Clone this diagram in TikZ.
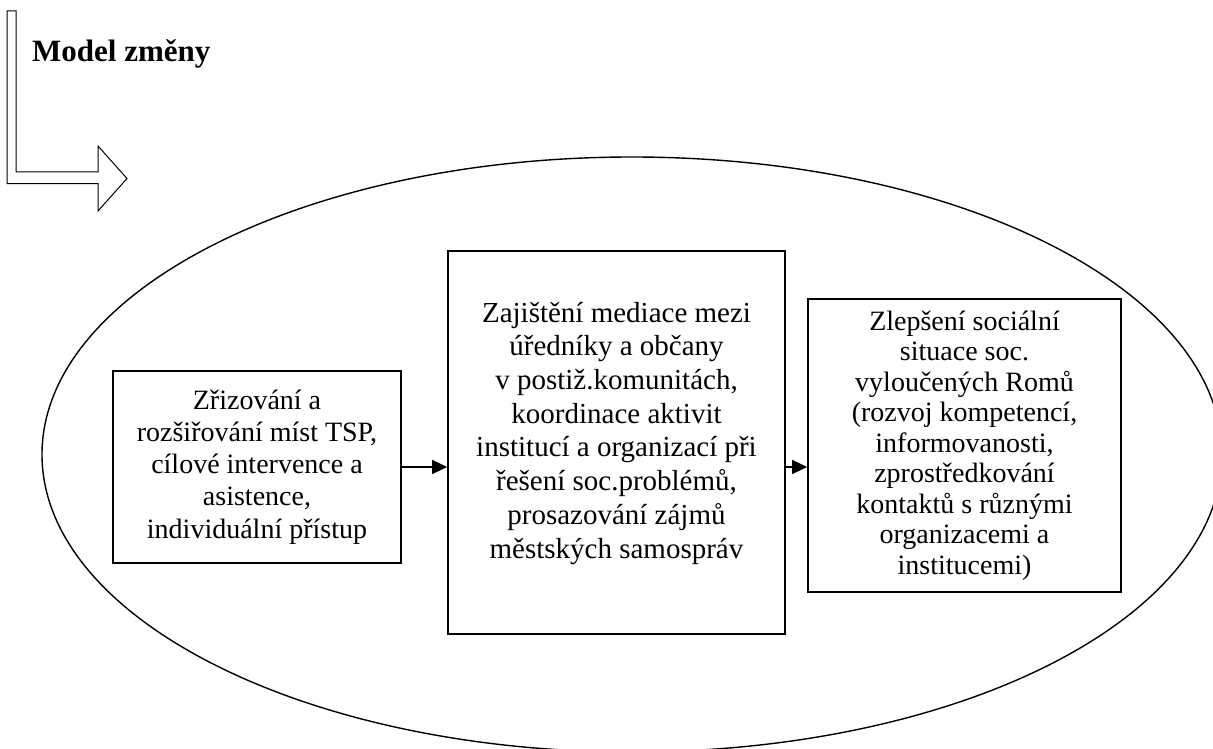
\documentclass[tikz,border=0pt]{standalone}
\usepackage{fontspec}
\setmainfont{Liberation Serif}
\usetikzlibrary{arrows.meta}
\tikzset{
  boxnode/.style={draw, line width=1.7pt, rectangle, align=center, inner sep=0pt,
    font=\fontsize{28}{32.2}\selectfont},
  flow/.style={line width=1.5pt, -{Triangle[length=15pt,width=14pt]}},
  blockarrow/.style={draw, line width=1pt, line join=miter},
  oval/.style={draw, line width=1.4pt}
}
\begin{document}
\begin{tikzpicture}[x=1pt,y=-1pt]
\useasboundingbox (0,0) rectangle (1213,749);
% large ellipse
\draw[oval] (632,454.5) ellipse [x radius=590pt, y radius=297.5pt];
% block arrow
\draw[blockarrow] (7,11) -- (16,11) -- (16,172) -- (98,172) -- (98,146) -- (127,178.5)
  -- (98,211) -- (98,183.5) -- (7,183.5) -- cycle;
% title
\node[font=\bfseries\fontsize{31}{36}\selectfont, anchor=base west, inner sep=0pt] (title) at (32,62) {Model změny};
% boxes
\node[boxnode, minimum width=288pt, minimum height=192pt] (b1) at (257,467)
  {Zřizování a\\rozšiřování míst TSP,\\cílové intervence a\\asistence,\\individuální přístup};
\node[boxnode, minimum width=337pt, minimum height=383pt, font=\fontsize{29}{33.7}\selectfont] (b2) at (616.5,442.5)
  {Zajištění mediace mezi\\úředníky a občany\\v~postiž.komunitách,\\koordinace aktivit\\institucí a organizací při\\řešení soc.problémů,\\prosazování zájmů\\městských samospráv\rule[-25pt]{0pt}{0pt}};
\node[boxnode, minimum width=313pt, minimum height=293pt, font=\fontsize{28}{30.5}\selectfont] (b3) at (964.5,445.5)
  {Zlepšení sociální\\situace soc.\\vyloučených Romů\\(rozvoj kompetencí,\\informovanosti,\\zprostředkování\\kontaktů s různými\\organizacemi a\\institucemi)};
% connectors
\draw[flow] (b1.east) -- (b1.east -| b2.west);
\draw[flow] (b1.east -| b2.east) -- (b1.east -| b3.west);
\end{tikzpicture}
\end{document}
